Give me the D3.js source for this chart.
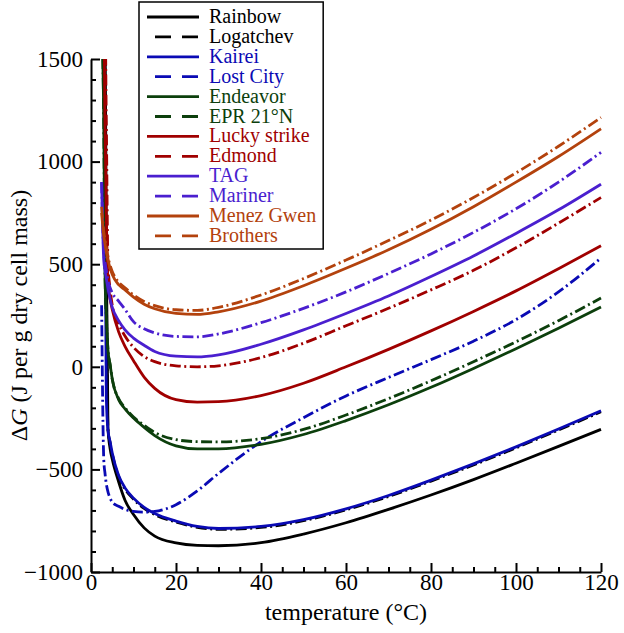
<!DOCTYPE html>
<html><head><meta charset="utf-8">
<script src="https://cdn.jsdelivr.net/npm/d3@7"></script>
<style>
html,body{margin:0;padding:0;background:#fff;}
</style></head>
<body>
<svg id="chart" width="624" height="633"></svg>
<script>
const FONT = "Liberation Serif";
const temps = [2.5, 3, 3.3, 3.6, 4, 4.5, 5, 6.5, 8, 10, 12.5, 15, 20, 25, 30, 40, 50, 60, 70, 80, 90, 100, 110, 120];

const seriesNames = ["Rainbow","Logatchev","Kairei","Lost City","Endeavor","EPR 21°N","Lucky strike","Edmond","TAG","Mariner","Menez Gwen","Brothers"];
const seriesColors = ["#000000","#000000","#0a0ab4","#0a0ab4","#0c3f0c","#0c3f0c","#a00000","#a00000","#4a1fcf","#4a1fcf","#b3420d","#b3420d"];
const seriesDashed = [false,true,false,true,false,true,false,true,false,true,false,true];

const rainbow    = [1700,1700,1700, 600,-300,-400,-450,-560,-650,-720,-785,-825,-858,-870,-872,-857,-815,-760,-695,-625,-550,-470,-388,-305];
const logatchev  = [1700,1700,1700, 500,-310,-370,-425,-535,-595,-645,-690,-720,-757,-782,-792,-783,-750,-697,-632,-557,-478,-395,-308,-219];
const kairei     = [1700,1700, 900,-150,-310,-365,-420,-530,-590,-640,-685,-715,-752,-778,-788,-778,-745,-692,-627,-552,-473,-390,-303,-214];
const lostCity   = [ 300,-450,-520,-570,-610,-640,-660,-680,-695,-705,-708,-705,-672,-605,-520,-365,-248,-142, -52,  35, 125, 230, 365, 530];
const endeavor   = [1700,1200, 450, 250,  80,  10, -60,-160,-205,-250,-295,-335,-385,-400,-400,-378,-330,-262,-185,-100,  -8,  88, 188, 292];
const epr21N     = [1700,1200, 450, 250,  80,  10, -60,-155,-200,-245,-285,-320,-355,-365,-366,-350,-305,-235,-155, -68,  25, 122, 225, 335];
const luckyStrike= [1700,1700,1200, 750, 420, 330, 280, 170, 100,  30, -50,-105,-160,-172,-170,-140, -80,   0,  85, 175, 270, 370, 478, 590];
const edmond     = [1700,1700,1700,1200, 500, 380, 300, 210, 150,  95,  50,  25,   5,   0,   5,  45, 115, 200, 285, 375, 470, 580, 700, 825];
const tag        = [ 900, 520, 470, 430, 380, 330, 290, 225, 180, 140, 105,  75,  52,  48,  58, 110, 180, 260, 345, 440, 540, 650, 765, 890];
const mariner    = [ 900, 560, 510, 470, 420, 385, 360, 320, 280, 220, 185, 165, 148, 146, 160, 215, 285, 365, 455, 550, 655, 770, 900,1045];
const menezGwen  = [ 750, 640, 600, 560, 520, 480, 450, 400, 375, 340, 305, 283, 260, 255, 268, 320, 395, 480, 570, 670, 780, 900,1025,1160];
const brothers   = [ 780, 660, 620, 580, 535, 495, 465, 412, 385, 350, 318, 298, 278, 275, 290, 350, 430, 520, 615, 715, 825, 945,1075,1215];
const seriesValues = [rainbow,logatchev,kairei,lostCity,endeavor,epr21N,luckyStrike,edmond,tag,mariner,menezGwen,brothers];

const xTicks = [0,20,40,60,80,100,120];
const yTicks = [-1000,-500,0,500,1000,1500];

const svg = d3.select("#chart");
const x = d3.scaleLinear().domain([0,120]).range([91,601]);
const y = d3.scaleLinear().domain([-1000,1500]).range([572,59]);

svg.append("defs").append("clipPath").attr("id","plotclip")
  .append("rect").attr("x",x(0)).attr("y",y(1500)).attr("width",x(120)-x(0)+3).attr("height",y(-1000)-y(1500));

const gLines = svg.append("g").attr("clip-path","url(#plotclip)");
const line = d3.line().x(d=>x(d[0])).y(d=>y(d[1])).curve(d3.curveMonotoneX);
const dash = "11,3.5,2,3.5";
seriesValues.forEach((vals,i)=>{
  const pts = temps.map((t,j)=>[t,vals[j]]);
  gLines.append("path").datum(pts)
    .attr("d",line)
    .attr("fill","none")
    .attr("stroke",seriesColors[i])
    .attr("stroke-width",2.8)
    .attr("stroke-linejoin","round")
    .attr("stroke-dasharray",seriesDashed[i]?dash:null);
});

const xMinor = d3.range(0,121,5).filter(v=>v%20!==0);
const yMinor = d3.range(-1000,1501,100).filter(v=>v%500!==0);
const axStyle = g=>{g.attr("font-family",FONT).attr("font-size",23);
  g.selectAll("path,line").attr("stroke","#000").attr("stroke-width",2);
  g.selectAll("text").attr("fill","#000").style("font-family",FONT).style("font-size","23px");};

svg.append("g").attr("transform",`translate(0,${y(-1000)})`)
  .call(d3.axisBottom(x).tickValues(xMinor).tickSize(-5).tickFormat(""))
  .call(g=>g.select(".domain").remove()).call(axStyle);
svg.append("g").attr("transform",`translate(0,${y(-1000)})`)
  .call(d3.axisBottom(x).tickValues(xTicks).tickSizeInner(-9).tickSizeOuter(0).tickPadding(2).tickFormat(d3.format("d")))
  .call(axStyle);
svg.append("g").attr("transform",`translate(${x(0)},0)`)
  .call(d3.axisLeft(y).tickValues(yMinor).tickSize(-5).tickFormat(""))
  .call(g=>g.select(".domain").remove()).call(axStyle);
svg.append("g").attr("transform",`translate(${x(0)},0)`)
  .call(d3.axisLeft(y).tickValues(yTicks).tickSizeInner(-9).tickSizeOuter(0).tickPadding(8).tickFormat(d3.format("d")))
  .call(axStyle);

svg.append("text").attr("x",(x(0)+x(120))/2).attr("y",620).attr("text-anchor","middle")
  .style("font-family",FONT).style("font-size","24px").text("temperature (°C)");
const yt = svg.append("text").attr("transform",`translate(27,${(y(1500)+y(-1000))/2}) rotate(-90)`)
  .attr("text-anchor","middle").style("font-family",FONT).style("font-size","24px");
yt.append("tspan").text("Δ");
yt.append("tspan").attr("font-style","italic").text("G");
yt.append("tspan").text(" (J per g dry cell mass)");

const lg = svg.append("g");
const lx = 139, ly = 2, rowH = 19.9;
const box = lg.append("rect").attr("x",lx).attr("y",ly).attr("height",247)
  .attr("fill","#fff").attr("stroke","#000").attr("stroke-width",1.5);
let maxW = 0;
seriesNames.forEach((n,i)=>{
  const cy = ly + 15 + i*rowH;
  lg.append("line").attr("x1",seriesDashed[i]?lx+16:lx+8).attr("x2",lx+60).attr("y1",cy).attr("y2",cy)
    .attr("stroke",seriesColors[i]).attr("stroke-width",2.8)
    .attr("stroke-dasharray",seriesDashed[i]?"16,11":null);
  const t = lg.append("text").attr("x",lx+70).attr("y",cy+6)
    .style("font-family",FONT).style("font-size","20px").attr("fill",seriesColors[i]).text(n);
  maxW = Math.max(maxW, t.node().getComputedTextLength());
});
box.attr("width", 70 + maxW + 7);
</script>
</body></html>
